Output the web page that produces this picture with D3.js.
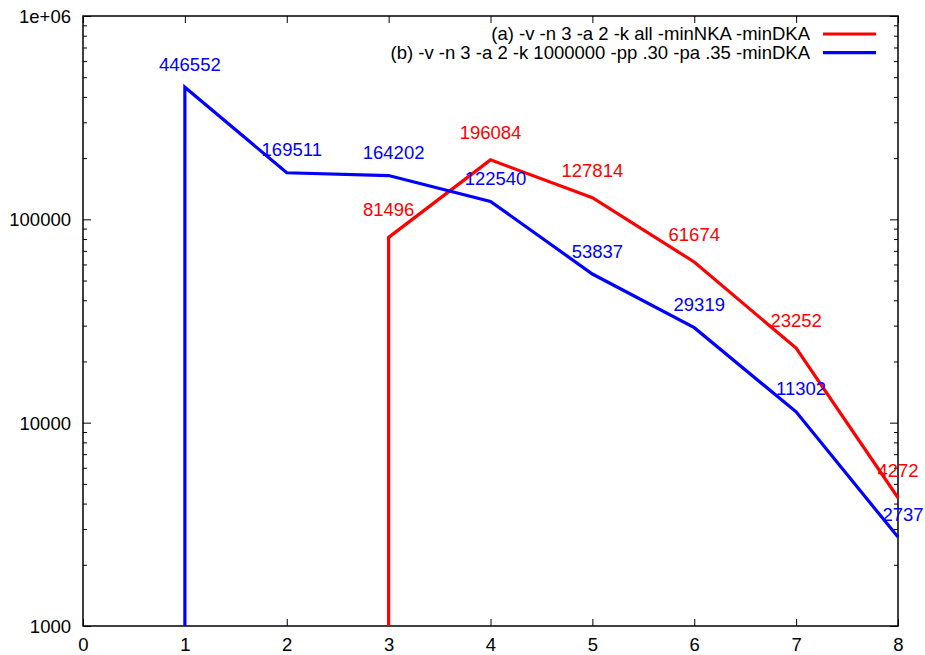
<!DOCTYPE html>
<html>
<head>
<meta charset="utf-8">
<script src="https://cdn.jsdelivr.net/npm/d3@7"></script>
<style>
  body { margin: 0; background: white; }
  text { font-family: "Liberation Sans", Arial, sans-serif; }
</style>
</head>
<body>
<div id="vis"></div>
<script>
// data
let xTicks = [0, 1, 2, 3, 4, 5, 6, 7, 8];
let yMajor = [1000, 10000, 100000, 1000000];
let yLabels = ["1000", "10000", "100000", "1e+06"];

// (a) starts at x=3, drops to the bottom of the axis
let aX = [3, 3, 4, 5, 6, 7, 8];
let aY = [1000, 81496, 196084, 127814, 61674, 23252, 4272];
// (b) starts at x=1
let bX = [1, 1, 2, 3, 4, 5, 6, 7, 8];
let bY = [1000, 446552, 169511, 164202, 122540, 53837, 29319, 11302, 2737];

let legendA = "(a) -v -n 3 -a 2 -k all -minNKA -minDKA";
let legendB = "(b) -v -n 3 -a 2 -k 1000000 -pp .30 -pa .35 -minDKA";

let W = 925, H = 655;
let margin = { top: 16, left: 83, right: 27, bottom: 29 };
let width = W - margin.left - margin.right,
    height = H - margin.top - margin.bottom;

let svg = d3.select('#vis').append('svg')
  .attr('width', W).attr('height', H)
  .style('background-color', 'white');

let g = svg.append('g').attr('transform', `translate(${margin.left},${margin.top})`);

let x = d3.scaleLinear().domain([0, 8]).range([0, width]);
let y = d3.scaleLog().domain([1000, 1000000]).range([height, 0]);

let fontSize = 18.5;
let minor = y.ticks().filter(v => !yMajor.includes(v));

function styleAxis(sel) {
  sel.select('.domain').remove();
  sel.selectAll('line').attr('stroke', '#000').attr('stroke-width', 1);
  sel.selectAll('text').attr('fill', '#000').style('font-size', fontSize + 'px')
    .style('font-family', '"Liberation Sans", Arial, sans-serif');
}

// bottom & top x axes (ticks inward)
g.append('g').attr('transform', `translate(0,${height})`)
  .call(d3.axisBottom(x).tickValues(xTicks).tickSizeInner(-7).tickSizeOuter(0).tickPadding(12).tickFormat(d3.format('d')))
  .call(styleAxis);
g.append('g')
  .call(d3.axisTop(x).tickValues(xTicks).tickSizeInner(-7).tickSizeOuter(0).tickFormat(''))
  .call(styleAxis);

// left & right y axes, major + minor
g.append('g')
  .call(d3.axisLeft(y).tickValues(yMajor).tickSizeInner(-8).tickSizeOuter(0).tickPadding(12)
    .tickFormat((d, i) => yLabels[i]))
  .call(styleAxis)
  .selectAll('text').attr('dy', '0.35em');
g.append('g')
  .call(d3.axisLeft(y).tickValues(minor).tickSizeInner(-4).tickSizeOuter(0).tickFormat(''))
  .call(styleAxis);
g.append('g').attr('transform', `translate(${width},0)`)
  .call(d3.axisRight(y).tickValues(yMajor).tickSizeInner(-8).tickSizeOuter(0).tickFormat(''))
  .call(styleAxis);
g.append('g').attr('transform', `translate(${width},0)`)
  .call(d3.axisRight(y).tickValues(minor).tickSizeInner(-4).tickSizeOuter(0).tickFormat(''))
  .call(styleAxis);

// border
g.append('rect').attr('width', width).attr('height', height)
  .attr('fill', 'none').attr('stroke', '#000').attr('stroke-width', 1.5);

let line = d3.line().x(d => x(d[0])).y(d => y(d[1]));

let series = [
  { xs: aX, ys: aY, color: '#ff0000', dx: 0, dy: -21, skip: 1 },
  { xs: bX, ys: bY, color: '#0000ff', dx: 5, dy: -16.5, skip: 1 }
];

series.forEach(s => {
  let pts = s.xs.map((v, i) => [v, s.ys[i]]);
  g.append('path').datum(pts)
    .attr('d', line)
    .attr('fill', 'none')
    .attr('stroke', s.color)
    .attr('stroke-width', 3.2)
    .attr('stroke-linejoin', 'miter');

  g.append('g').selectAll('text')
    .data(pts.slice(s.skip))
    .join('text')
    .attr('x', d => x(d[0]) + s.dx)
    .attr('y', d => y(d[1]) + s.dy)
    .attr('text-anchor', 'middle')
    .attr('fill', s.color)
    .style('font-size', fontSize + 'px')
    .text(d => d[1]);
});

// legend
let legend = [
  { label: legendA, color: '#ff0000' },
  { label: legendB, color: '#0000ff' }
];
let lg = svg.append('g').selectAll('g').data(legend).join('g')
  .attr('transform', (d, i) => `translate(0,${34 + i * 18.7})`);
lg.append('text')
  .attr('x', 810).attr('y', 0).attr('dy', '0.35em')
  .attr('text-anchor', 'end')
  .attr('fill', '#000')
  .style('font-size', fontSize + 'px')
  .text(d => d.label);
lg.append('line')
  .attr('x1', 823).attr('x2', 876)
  .attr('stroke', d => d.color).attr('stroke-width', 3.2);
</script>
</body>
</html>
